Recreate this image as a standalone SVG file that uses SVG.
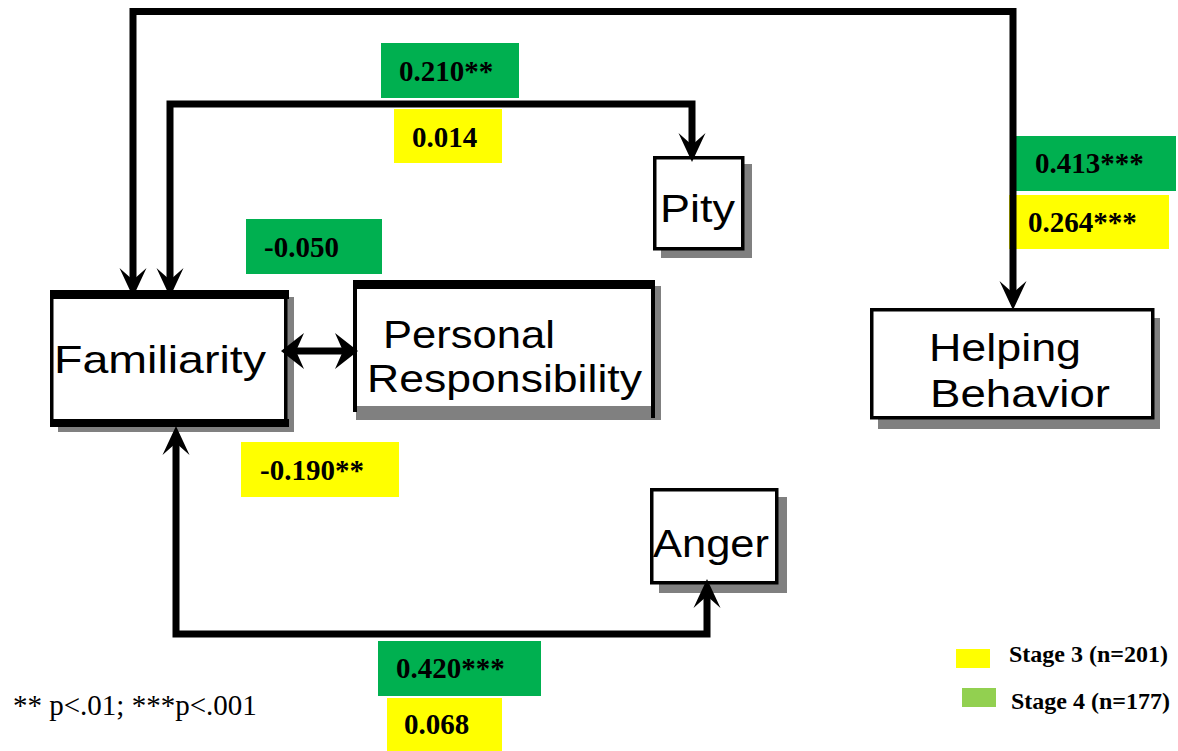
<svg xmlns="http://www.w3.org/2000/svg" width="1178" height="751" viewBox="0 0 1178 751">
  <style>
    .shadow { fill: #808080; }
    .box { fill: #ffffff; stroke: #000000; stroke-width: 3.5; }
    .bar { fill: #000000; }
    .node-text { font-family: "Liberation Sans", Arial, sans-serif; font-size: 39px; fill: #000000; }
    .coef { font-family: "Liberation Serif", "Times New Roman", serif; font-weight: bold; font-size: 29px; fill: #000000; }
    .s3 { fill: #ffff00; }
    .s4 { fill: #00b050; }
    .legend-text { font-family: "Liberation Serif", "Times New Roman", serif; font-weight: bold; font-size: 24px; fill: #000000; }
    .note { font-family: "Liberation Serif", "Times New Roman", serif; font-size: 29px; fill: #000000; }
    .link { fill: none; stroke: #000000; stroke-width: 7; stroke-linejoin: miter; }
  </style>
  <defs>
    <marker id="head" markerUnits="userSpaceOnUse" viewBox="-32 -16 34 32" refX="-15" refY="0" markerWidth="34" markerHeight="32" orient="auto-start-reverse" overflow="visible">
      <path d="M0,0 L-29,-13.5 L-17,0 L-29,13.5 Z" fill="#000000"/>
    </marker>
    <marker id="headWide" markerUnits="userSpaceOnUse" viewBox="-30 -20 32 40" refX="-12" refY="0" markerWidth="32" markerHeight="40" orient="auto-start-reverse" overflow="visible">
      <path d="M0,0 L-23,-18 L-15,0 L-23,18 Z" fill="#000000"/>
    </marker>
  </defs>

  <!-- coefficient labels: green = stage 4, yellow = stage 3 -->
  <g id="labels">
    <rect class="s4" x="381" y="43" width="138" height="55"/>
    <text class="coef" x="399" y="81">0.210**</text>
    <rect class="s3" x="394" y="109" width="108" height="54"/>
    <text class="coef" x="412" y="147">0.014</text>

    <rect class="s4" x="246" y="219" width="136" height="55"/>
    <text class="coef" x="264" y="257">-0.050</text>

    <rect class="s4" x="1016" y="136" width="160" height="55"/>
    <text class="coef" x="1035" y="173">0.413***</text>
    <rect class="s3" x="1009" y="195" width="160" height="54"/>
    <text class="coef" x="1028" y="232">0.264***</text>

    <rect class="s3" x="241" y="442" width="158" height="55"/>
    <text class="coef" x="260" y="480">-0.190**</text>

    <rect class="s4" x="378" y="641" width="163" height="55"/>
    <text class="coef" x="396" y="678">0.420***</text>
    <rect class="s3" x="387" y="698" width="115" height="53"/>
    <text class="coef" x="404" y="734">0.068</text>
  </g>

  <!-- nodes -->
  <g id="familiarity">
    <rect class="shadow" x="58" y="297" width="236" height="135"/>
    <rect class="box" x="51.75" y="292" width="234" height="132"/>
    <rect class="bar" x="50" y="290" width="239" height="9"/>
    <rect class="bar" x="50" y="419" width="239" height="8"/>
    <text class="node-text" x="54" y="373" textLength="212" lengthAdjust="spacingAndGlyphs">Familiarity</text>
  </g>

  <g id="personal-responsibility">
    <rect class="shadow" x="356" y="286" width="305" height="134"/>
    <rect x="355" y="282" width="298" height="124" fill="#ffffff"/>
    <rect class="bar" x="353" y="280" width="302" height="9"/>
    <rect class="bar" x="353" y="280" width="4" height="132"/>
    <rect class="bar" x="651" y="280" width="4" height="138"/>
    <text class="node-text" x="383" y="348" textLength="172" lengthAdjust="spacingAndGlyphs">Personal</text>
    <text class="node-text" x="367" y="392" textLength="275" lengthAdjust="spacingAndGlyphs">Responsibility</text>
  </g>

  <g id="pity">
    <rect class="shadow" x="661" y="164" width="91" height="94"/>
    <rect class="box" x="654.75" y="157.75" width="88" height="91"/>
    <text class="node-text" x="660" y="222" textLength="75" lengthAdjust="spacingAndGlyphs">Pity</text>
  </g>

  <g id="helping-behavior">
    <rect class="shadow" x="878" y="318" width="282" height="111"/>
    <rect class="box" x="871.75" y="309.75" width="281" height="108"/>
    <text class="node-text" x="929" y="361" textLength="152" lengthAdjust="spacingAndGlyphs">Helping</text>
    <text class="node-text" x="930" y="407" textLength="180" lengthAdjust="spacingAndGlyphs">Behavior</text>
  </g>

  <g id="anger">
    <rect class="shadow" x="659" y="497" width="128" height="96"/>
    <rect class="box" x="651.75" y="489.75" width="125" height="93"/>
    <text class="node-text" x="653" y="557" textLength="116" lengthAdjust="spacingAndGlyphs">Anger</text>
  </g>

  <!-- connectors -->
  <g id="connectors">
    <path class="link" d="M133,282 V11.5 H1013 V295" marker-start="url(#head)" marker-end="url(#head)"/>
    <path class="link" d="M170,282 V104 H692 V147" marker-start="url(#head)" marker-end="url(#head)"/>
    <path class="link" d="M176,441 V634 H707 V594" marker-start="url(#head)" marker-end="url(#head)"/>
    <path class="link" d="M293,351 H346" marker-start="url(#headWide)" marker-end="url(#headWide)"/>
  </g>

  <!-- legend -->
  <g id="legend">
    <rect x="956" y="649" width="34" height="19" fill="#ffff00"/>
    <text class="legend-text" x="1009" y="662">Stage 3 (n=201)</text>
    <rect x="962" y="688" width="34" height="19" fill="#92d050"/>
    <text class="legend-text" x="1011" y="709">Stage 4 (n=177)</text>
  </g>

  <text class="note" x="13" y="715">** p&lt;.01; ***p&lt;.001</text>
</svg>
